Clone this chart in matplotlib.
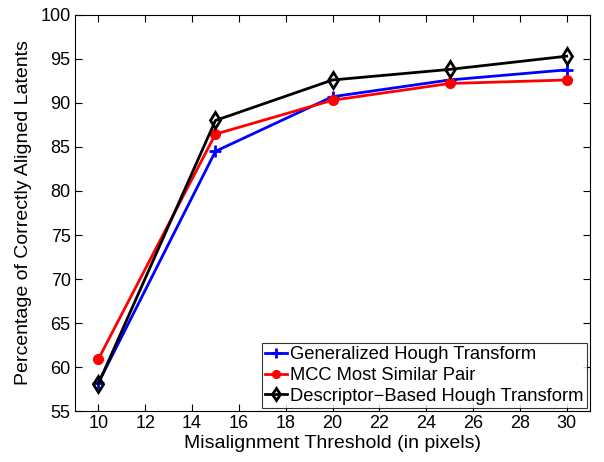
import matplotlib
matplotlib.use('Agg')
import matplotlib.pyplot as plt

thresholds = [10, 15, 20, 25, 30]
ght = [58.2, 84.5, 90.7, 92.6, 93.75]
mcc = [60.9, 86.45, 90.3, 92.2, 92.6]
dbht = [58.1, 88.0, 92.6, 93.8, 95.3]

plt.rcParams['font.family'] = ['Liberation Sans', 'DejaVu Sans']
plt.rcParams['font.size'] = 12

fig = plt.figure(figsize=(6.04, 4.62), dpi=100)
ax = fig.add_axes([0.124, 0.110, 0.853, 0.858])

ax.plot(thresholds, ght, color='#0000ff', lw=2, marker='+', ms=9, mew=2,
        label='Generalized Hough Transform')
ax.plot(thresholds, mcc, color='#ff0000', lw=2, marker='o', ms=7,
        label='MCC Most Similar Pair')
ax.plot(thresholds, dbht, color='k', lw=2, marker='d', ms=8, mew=2,
        mfc='none', label='Descriptor\u2212Based Hough Transform')

ax.set_xlim(9, 31)
ax.set_ylim(55, 100)
ax.set_xticks(range(10, 31, 2))
ax.set_yticks(range(55, 101, 5))
ax.tick_params(direction='in', top=True, right=True, length=5,
               labelsize=13, pad=3)
for s in ax.spines.values():
    s.set_linewidth(0.8)

ax.set_xlabel('Misalignment Threshold (in pixels)', fontsize=14, labelpad=2)
ax.set_ylabel('Percentage of Correctly Aligned Latents', fontsize=14,
              labelpad=6)

leg = ax.legend(loc='lower right', fontsize=13.2, fancybox=False,
                edgecolor='k', handlelength=1.2, handletextpad=0.15,
                borderpad=0.2, labelspacing=0.2, borderaxespad=0.15,
                markerscale=0.8)
leg.get_frame().set_linewidth(0.8)

fig.savefig('out.png', dpi=100)
